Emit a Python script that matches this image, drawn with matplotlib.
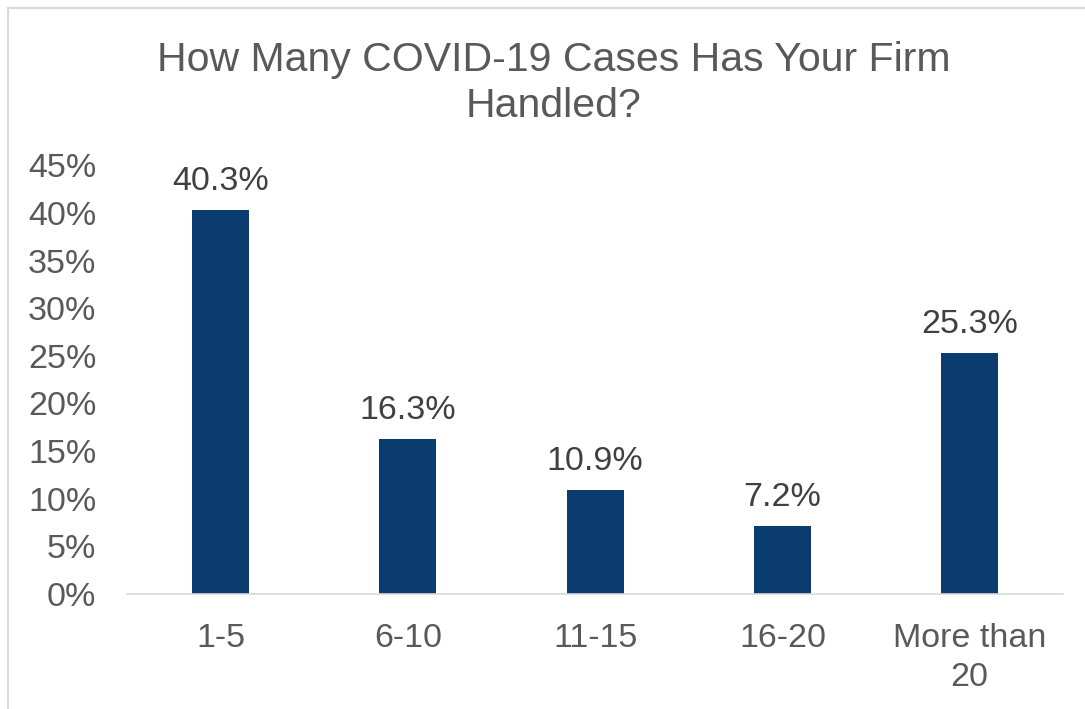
import matplotlib.pyplot as plt
from matplotlib.patches import Rectangle
from matplotlib.ticker import FuncFormatter

categories = ['1-5', '6-10', '11-15', '16-20', 'More than\n20']
values = [40.3, 16.3, 10.9, 7.2, 25.3]
yticks = [0, 5, 10, 15, 20, 25, 30, 35, 40, 45]

plt.rcParams['font.family'] = ['Liberation Sans', 'DejaVu Sans']
text_color = '#595959'
bar_color = '#0b3c6f'

fig = plt.figure(figsize=(10.85, 7.09), dpi=100)
ax = fig.add_axes([0.117, 0.162, 0.863, 0.605])

# outer frame like the Excel chart area
fig.patches.append(Rectangle((8 / 1085, -0.01), 1.0, 1 - 8 / 709 + 0.01,
                             transform=fig.transFigure, fill=False,
                             edgecolor='#d9d9d9', linewidth=1.5))

x = range(len(categories))
bars = ax.bar(x, values, width=0.305, color=bar_color)
for b, v in zip(bars, values):
    ax.text(b.get_x() + b.get_width() / 2, v + 1.35, f'{v}%', ha='center',
            va='bottom', fontsize=24.5, color='#404040', clip_on=False)

ax.set_xlim(-0.5, len(categories) - 0.5)
ax.set_ylim(0, 45)
ax.set_yticks(yticks)
ax.yaxis.set_major_formatter(FuncFormatter(lambda v, p: f'{v:.0f}%'))
ax.set_xticks(list(x))
ax.set_xticklabels(categories, linespacing=1.3)
ax.tick_params(axis='both', length=0, labelsize=24.5, colors=text_color)
ax.tick_params(axis='x', pad=21)
ax.tick_params(axis='y', pad=22)
for s in ['top', 'right', 'left']:
    ax.spines[s].set_visible(False)
ax.spines['bottom'].set_color('#d9d9d9')
ax.spines['bottom'].set_linewidth(1.2)

fig.text(0.51, 0.883, 'How Many COVID-19 Cases Has Your Firm\nHandled?',
         ha='center', va='center', fontsize=29.5, color=text_color,
         linespacing=1.25)

fig.savefig('out.png', dpi=100)
